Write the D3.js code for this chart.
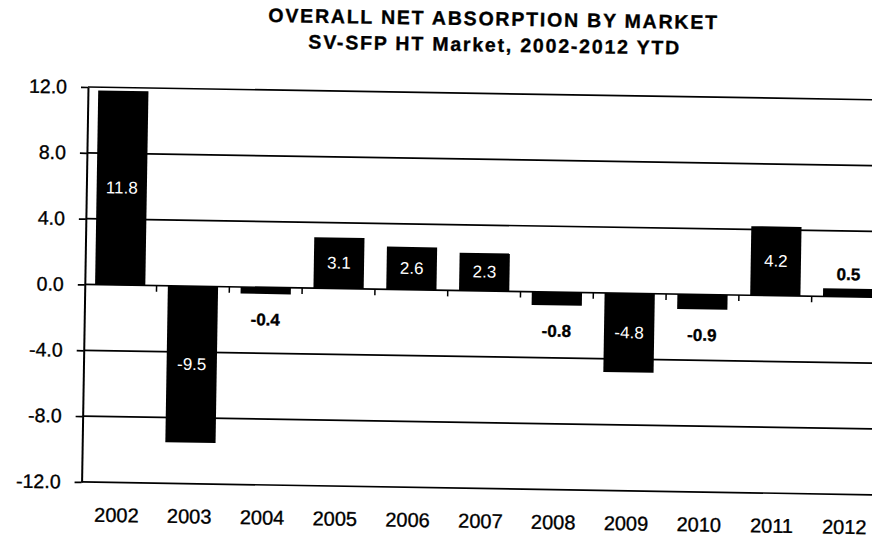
<!DOCTYPE html>
<html>
<head>
<meta charset="utf-8">
<script src="https://cdn.jsdelivr.net/npm/d3@7"></script>
<style>
  html, body { margin: 0; padding: 0; background: #fff; }
  svg { display: block; }
  text { font-family: "Liberation Sans", Arial, Helvetica, sans-serif; fill: #000; }
  text.ink { stroke: #000; stroke-width: 0.35; }
</style>
</head>
<body>
<svg id="chart" width="872" height="537"></svg>
<script>
// Net absorption per year (millions of sq ft)
const years = ["2002", "2003", "2004", "2005", "2006", "2007", "2008", "2009", "2010", "2011", "2012"];
const absorption = [11.8, -9.5, -0.4, 3.1, 2.6, 2.3, -0.8, -4.8, -0.9, 4.2, 0.5];
const yTicks = [12, 8, 4, 0, -4, -8, -12];
const titleLines = ["OVERALL NET ABSORPTION BY MARKET", "SV-SFP HT Market, 2002-2012 YTD"];

const W = 872, H = 537;
const plotLeft = 88, plotTop = 87, plotBottom = 482;
const step = 72.8;

const svg = d3.select("#chart");
// the printed page sits slightly askew
const g = svg.append("g").attr("transform", `rotate(0.93, ${plotLeft}, ${plotTop})`);

const y = d3.scaleLinear().domain([-12, 12]).range([plotBottom, plotTop]);
const x = d3.scaleBand()
  .domain(years)
  .range([plotLeft - 1, plotLeft - 1 + years.length * step])
  .paddingInner(0.31)
  .paddingOuter(0.155);

// title
g.selectAll("text.title")
  .data(titleLines)
  .join("text")
  .attr("class", "title ink")
  .attr("x", (d, i) => i === 0 ? 492.5 : 494)
  .attr("y", (d, i) => i === 0 ? 19 : 45)
  .attr("text-anchor", "middle")
  .attr("font-size", 19.5)
  .attr("font-weight", "bold")
  .attr("letter-spacing", 1.8)
  .text(d => d);

// horizontal gridlines
g.selectAll("line.grid")
  .data(yTicks)
  .join("line")
  .attr("class", "grid")
  .attr("x1", plotLeft)
  .attr("x2", W + 40)
  .attr("y1", d => y(d))
  .attr("y2", d => y(d))
  .attr("stroke", "#000")
  .attr("stroke-width", 1.7);

// bars
g.selectAll("rect.bar")
  .data(absorption)
  .join("rect")
  .attr("class", "bar")
  .attr("x", (d, i) => x(years[i]))
  .attr("width", x.bandwidth())
  .attr("y", d => Math.min(y(d), y(0)))
  .attr("height", d => Math.abs(y(d) - y(0)))
  .attr("fill", "#000");

// category tick marks on the zero line
const bounds = years.map((d, i) => x(d) + x.bandwidth() + (x.step() - x.bandwidth()) / 2);
g.selectAll("line.xtick")
  .data(bounds)
  .join("line")
  .attr("class", "xtick")
  .attr("x1", d => d).attr("x2", d => d)
  .attr("y1", y(0)).attr("y2", y(0) + 6)
  .attr("stroke", "#000")
  .attr("stroke-width", 1.5);

// value axis
const yAxis = d3.axisLeft(y)
  .tickValues(yTicks)
  .tickSize(7)
  .tickSizeOuter(0)
  .tickPadding(14)
  .tickFormat(d => d.toFixed(1));
const ya = g.append("g").attr("transform", `translate(${plotLeft},0)`).call(yAxis);
ya.select(".domain").attr("stroke", "#000").attr("stroke-width", 2);
ya.selectAll(".tick line").attr("stroke", "#000").attr("stroke-width", 1.7);
ya.selectAll(".tick text")
  .attr("class", "ink")
  .attr("font-size", 19.5)
  .attr("font-family", "'Liberation Sans', Arial, sans-serif")
  .attr("fill", "#000");

// year labels
g.selectAll("text.year")
  .data(years)
  .join("text")
  .attr("class", "year ink")
  .attr("x", d => x(d) + x.bandwidth() / 2)
  .attr("y", 521.5)
  .attr("text-anchor", "middle")
  .attr("font-size", 20)
  .text(d => d);

// value labels: inside the bar for tall bars, outside for short ones
g.selectAll("text.val")
  .data(absorption)
  .join("text")
  .attr("class", d => Math.abs(d) >= 1 ? "val" : "val ink")
  .attr("x", (d, i) => x(years[i]) + x.bandwidth() / 2)
  .attr("y", d => {
    if (Math.abs(d) >= 1) return (y(d) + y(0)) / 2;
    return d < 0 ? y(d) + 26 : y(d) - 14;
  })
  .attr("dominant-baseline", "central")
  .attr("text-anchor", "middle")
  .attr("font-size", 17)
  .attr("font-weight", d => Math.abs(d) >= 1 ? "normal" : "bold")
  .style("fill", d => Math.abs(d) >= 1 ? "#fff" : "#000")
  .text(d => d.toFixed(1));
</script>
</body>
</html>
